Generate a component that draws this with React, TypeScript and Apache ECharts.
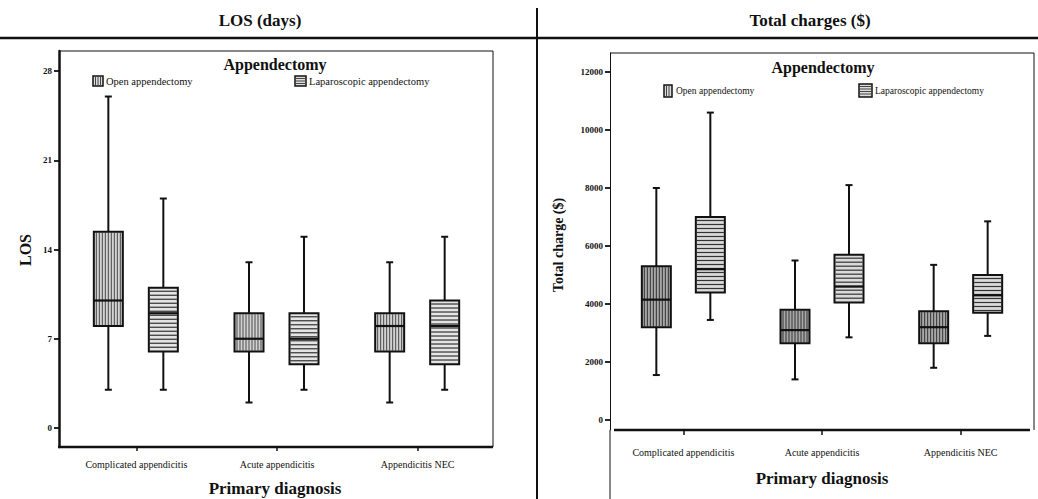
import React, { useEffect, useRef } from "react";
import * as echarts from "echarts";

const categories = ["Complicated appendicitis", "Acute appendicitis", "Appendicitis NEC"];
const chargeCategories = ["Complicated appendicitis", "Acute appendicitis", "Appendicitis NEC"];
const losTicks = [0, 7, 14, 21, 28];
const chargeTicks = [0, 2000, 4000, 6000, 8000, 10000, 12000];
const seriesNames = ["Open appendectomy", "Laparoscopic appendectomy"];
// [min, Q1, median, Q3, max]
const losOpen = [
  [3, 8, 10, 15.4, 26],
  [2, 6, 7, 9, 13],
  [2, 6, 8, 9, 13],
];
const losLap = [
  [3, 6, 9, 11, 18],
  [3, 5, 7, 9, 15],
  [3, 5, 8, 10, 15],
];
const chargeOpen = [
  [1550, 3200, 4150, 5300, 8000],
  [1400, 2650, 3100, 3800, 5500],
  [1800, 2650, 3200, 3750, 5350],
];
const chargeLap = [
  [3450, 4400, 5200, 7000, 10600],
  [2850, 4050, 4600, 5700, 8100],
  [2900, 3700, 4300, 5000, 6850],
];

const SERIF = "'Liberation Serif', 'Times New Roman', serif";

function toData(rows: number[][]) {
  return rows.map((r, i) => [i, ...r]);
}

function makeRender(offset: number, kind: "open" | "lap", dark: boolean) {
  return (params: any, api: any) => {
    const c = api.value(0);
    const pMin = api.coord([c, api.value(1)]);
    const pQ1 = api.coord([c, api.value(2)]);
    const pMed = api.coord([c, api.value(3)]);
    const pQ3 = api.coord([c, api.value(4)]);
    const pMax = api.coord([c, api.value(5)]);
    const cx = pMin[0] + offset;
    const hw = 14.5;
    const cap = 3.5;
    const ls = { stroke: "#111", lineWidth: 2 };
    const children: any[] = [];
    children.push({ type: "line", shape: { x1: cx, y1: pMax[1], x2: cx, y2: pQ3[1] }, style: ls });
    children.push({ type: "line", shape: { x1: cx, y1: pQ1[1], x2: cx, y2: pMin[1] }, style: ls });
    children.push({ type: "line", shape: { x1: cx - cap, y1: pMax[1], x2: cx + cap, y2: pMax[1] }, style: ls });
    children.push({ type: "line", shape: { x1: cx - cap, y1: pMin[1], x2: cx + cap, y2: pMin[1] }, style: ls });
    const top = pQ3[1];
    const bot = pQ1[1];
    const left = cx - hw;
    const right = cx + hw;
    const fill = kind === "open" ? (dark ? "#a8a8a8" : "#d2d2d2") : dark ? "#dadada" : "#e4e4e4";
    children.push({ type: "rect", shape: { x: left, y: top, width: hw * 2, height: bot - top }, style: { fill, stroke: "none" } });
    if (kind === "open") {
      for (let x = left + 2.5; x < right - 1; x += 3) {
        children.push({ type: "line", shape: { x1: x, y1: top + 1, x2: x, y2: bot - 1 }, style: { stroke: dark ? "#333" : "#4a4a4a", lineWidth: 1 } });
      }
    } else {
      for (let y = top + 3.5; y < bot - 1; y += 4) {
        children.push({ type: "line", shape: { x1: left + 1, y1: y, x2: right - 1, y2: y }, style: { stroke: "#333", lineWidth: 1.2 } });
      }
    }
    children.push({ type: "rect", shape: { x: left, y: top, width: hw * 2, height: bot - top }, style: { fill: "none", stroke: "#111", lineWidth: 2 } });
    children.push({ type: "line", shape: { x1: left, y1: pMed[1], x2: right, y2: pMed[1] }, style: { stroke: "#111", lineWidth: 2.2 } });
    return { type: "group", children };
  };
}

function hatchIcon(x: number, y: number, w: number, h: number, kind: "open" | "lap") {
  const children: any[] = [
    { type: "rect", shape: { x, y, width: w, height: h }, style: { fill: "#ddd", stroke: "#111", lineWidth: 1.5 } },
  ];
  if (kind === "open") {
    for (let xx = x + 2.5; xx < x + w - 1; xx += 2.5) {
      children.push({ type: "line", shape: { x1: xx, y1: y + 1, x2: xx, y2: y + h - 1 }, style: { stroke: "#333", lineWidth: 0.9 } });
    }
  } else {
    for (let yy = y + 2.5; yy < y + h - 1; yy += 2.5) {
      children.push({ type: "line", shape: { x1: x + 1, y1: yy, x2: x + w - 1, y2: yy }, style: { stroke: "#333", lineWidth: 0.9 } });
    }
  }
  return { type: "group", children };
}

function txt(text: string, x: number, y: number, size: number, bold: boolean, align = "center", rotation = 0) {
  return {
    type: "text",
    x,
    y,
    rotation,
    style: {
      text,
      fill: "#111",
      font: `${bold ? "bold " : ""}${size}px ${SERIF}`,
      textAlign: align,
      textVerticalAlign: "middle",
    },
  };
}

function ln(x1: number, y1: number, x2: number, y2: number, w: number) {
  return { type: "line", shape: { x1, y1, x2, y2 }, style: { stroke: "#111", lineWidth: w } };
}

export default function App() {
  const ref = useRef<HTMLDivElement>(null);
  useEffect(() => {
    if (!ref.current) return;
    const chart = echarts.init(ref.current, undefined, { renderer: "svg" });
    const yTickStyle = { show: true, length: 5, lineStyle: { color: "#111", width: 1.8 } };
    chart.setOption({
      animation: false,
      backgroundColor: "#fff",
      grid: [
        { left: 66, width: 422, top: 51, height: 396 },
        { left: 614, width: 416, top: 53, height: 377 },
      ],
      xAxis: [
        {
          type: "category",
          gridIndex: 0,
          data: categories,
          boundaryGap: true,
          axisLine: { show: false, onZero: false },
          axisTick: { show: true, alignWithLabel: true, length: 4, lineStyle: { color: "#111", width: 1.5 } },
          axisLabel: { color: "#111", fontFamily: SERIF, fontSize: 10, margin: 12 },
        },
        {
          type: "category",
          gridIndex: 1,
          data: chargeCategories,
          boundaryGap: true,
          axisLine: { show: false, onZero: false },
          axisTick: { show: true, alignWithLabel: true, length: 5, lineStyle: { color: "#111", width: 1.5 } },
          axisLabel: { color: "#111", fontFamily: SERIF, fontSize: 10, margin: 17 },
        },
      ],
      yAxis: [
        {
          type: "value",
          gridIndex: 0,
          min: -1.49,
          max: 29.57,
          offset: 7,
          axisLine: { show: true, lineStyle: { color: "#111", width: 2.5 } },
          splitLine: { show: false },
          axisTick: { ...yTickStyle, customValues: losTicks },
          axisLabel: { customValues: losTicks, color: "#111", fontFamily: SERIF, fontSize: 9, fontWeight: "bold", margin: 7, formatter: (v: number) => String(v) },
        },
        {
          type: "value",
          gridIndex: 1,
          min: -345,
          max: 12655,
          offset: 4,
          axisLine: { show: true, lineStyle: { color: "#111", width: 1 } },
          splitLine: { show: false },
          axisTick: { ...yTickStyle, customValues: chargeTicks },
          axisLabel: { customValues: chargeTicks, color: "#111", fontFamily: SERIF, fontSize: 9, fontWeight: "bold", margin: 7, formatter: (v: number) => String(v) },
        },
      ],
      series: [
        { type: "custom", name: seriesNames[0], xAxisIndex: 0, yAxisIndex: 0, data: toData(losOpen), encode: { x: 0, y: [1, 2, 3, 4, 5] }, renderItem: makeRender(-28, "open", false) },
        { type: "custom", name: seriesNames[1], xAxisIndex: 0, yAxisIndex: 0, data: toData(losLap), encode: { x: 0, y: [1, 2, 3, 4, 5] }, renderItem: makeRender(27, "lap", false) },
        { type: "custom", name: seriesNames[0], xAxisIndex: 1, yAxisIndex: 1, data: toData(chargeOpen), encode: { x: 0, y: [1, 2, 3, 4, 5] }, renderItem: makeRender(-27, "open", true) },
        { type: "custom", name: seriesNames[1], xAxisIndex: 1, yAxisIndex: 1, data: toData(chargeLap), encode: { x: 0, y: [1, 2, 3, 4, 5] }, renderItem: makeRender(27, "lap", true) },
      ],
      graphic: [
        // headers and dividers
        txt("LOS (days)", 260, 20, 17, true),
        txt("Total charges ($)", 810, 20, 17, true),
        ln(0, 38, 1038, 38, 2.5),
        ln(537, 8, 537, 499, 2),
        // left frame
        ln(59, 51, 493, 51, 1),
        ln(493, 51, 493, 447, 1),
        ln(58, 447, 493, 447, 2.5),
        // right frame
        ln(610, 53, 1034, 53, 1),
        ln(1034, 53, 1034, 430, 1),
        ln(610, 430, 610, 499, 1),
        ln(614, 430, 1030, 430, 2.5),
        // titles
        txt("Appendectomy", 275, 64, 16, true),
        txt("Appendectomy", 823, 67, 16, true),
        // left legend
        hatchIcon(93, 76, 10, 10, "open"),
        txt(seriesNames[0], 106, 81, 10.5, false, "left"),
        hatchIcon(295, 76, 11, 10, "lap"),
        txt(seriesNames[1], 309, 81, 10.5, false, "left"),
        // right legend
        hatchIcon(664, 85, 8, 12, "open"),
        txt(seriesNames[0], 676, 91, 9.5, false, "left"),
        hatchIcon(859, 84, 13, 13, "lap"),
        txt(seriesNames[1], 875, 91, 9.5, false, "left"),
        // axis names
        txt("Primary diagnosis", 275, 488, 17, true),
        txt("Primary diagnosis", 822, 478, 17, true),
        txt("LOS", 25, 250, 16, true, "center", Math.PI / 2),
        txt("Total charge ($)", 558, 245, 14, true, "center", Math.PI / 2),
      ],
    });
    return () => chart.dispose();
  }, []);
  return <div ref={ref} style={{ position: "fixed", left: 0, top: 0, width: 1038, height: 499, background: "#fff" }} />;
}
